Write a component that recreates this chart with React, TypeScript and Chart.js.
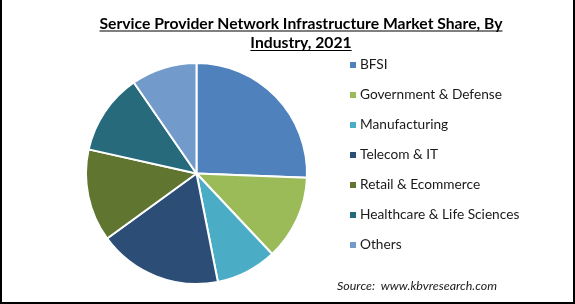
import React, { useEffect, useRef } from "react";
import { Chart, registerables } from "chart.js";

Chart.register(...registerables);

const categories = [
  "BFSI",
  "Government & Defense",
  "Manufacturing",
  "Telecom & IT",
  "Retail & Ecommerce",
  "Healthcare & Life Sciences",
  "Others",
];
const shares = [25.6, 12.4, 8.9, 18.1, 13.5, 11.9, 9.6];
const colors = ["#4F81BD", "#9BBB59", "#4BACC6", "#2C4D75", "#5F7530", "#276A7C", "#729ACA"];
const titleLines = ["Service Provider Network Infrastructure Market Share, By", "Industry, 2021"];
const sourceText = "Source:  www.kbvresearch.com";

const FONT = "Lato, 'Open Sans', sans-serif";

const decorPlugin = {
  id: "decor",
  afterDraw(chart: any) {
    const ctx = chart.ctx as CanvasRenderingContext2D;
    const W = chart.width;
    const H = chart.height;
    ctx.save();
    // title
    ctx.fillStyle = "#000";
    ctx.strokeStyle = "#000";
    ctx.font = `bold 15.7px ${FONT}`;
    ctx.textAlign = "center";
    ctx.textBaseline = "alphabetic";
    const cx = 301;
    const baselines = [28.5, 48];
    titleLines.forEach((t, i) => {
      ctx.fillText(t, cx, baselines[i]);
      const w = ctx.measureText(t).width;
      ctx.lineWidth = 1.2;
      ctx.beginPath();
      ctx.moveTo(cx - w / 2, baselines[i] + 2.5);
      ctx.lineTo(cx + w / 2, baselines[i] + 2.5);
      ctx.stroke();
    });
    // legend
    ctx.textAlign = "left";
    ctx.textBaseline = "middle";
    ctx.font = `13.7px ${FONT}`;
    categories.forEach((c, i) => {
      const y = 65 + i * 30;
      ctx.fillStyle = colors[i];
      ctx.fillRect(350, y - 3, 6, 6);
      ctx.fillStyle = "#1a1a1a";
      ctx.fillText(c, 360, y);
    });
    // source
    ctx.font = `italic 11px ${FONT}`;
    ctx.fillStyle = "#1a1a1a";
    const sw = ctx.measureText(sourceText).width;
    ctx.save();
    ctx.translate(337, 286.5);
    ctx.scale(160 / sw, 1);
    ctx.fillText(sourceText, 0, 0);
    ctx.restore();
    // border
    ctx.fillStyle = "#000";
    ctx.fillRect(0, 0, 2, H);
    ctx.fillRect(W - 2, 0, 2, H);
    ctx.fillRect(0, H - 2, W, 2);
    ctx.restore();
  },
};

export default function App() {
  const ref = useRef<HTMLCanvasElement | null>(null);
  useEffect(() => {
    document.body.style.margin = "0";
    const chart = new Chart(ref.current!, {
      type: "pie",
      data: {
        labels: categories,
        datasets: [
          {
            data: shares,
            backgroundColor: colors,
            borderColor: "#fff",
            borderWidth: 2,
          },
        ],
      },
      options: {
        animation: false,
        responsive: false,
        events: [],
        layout: { padding: { left: 85, right: 267, top: 62, bottom: 19 } },
        plugins: {
          legend: { display: false },
          title: { display: false },
          tooltip: { enabled: false },
        },
      },
      plugins: [decorPlugin],
    });
    return () => chart.destroy();
  }, []);
  return (
    <div style={{ width: 575, height: 304, background: "#fff" }}>
      <canvas ref={ref} width={575} height={304} style={{ display: "block" }} />
    </div>
  );
}
